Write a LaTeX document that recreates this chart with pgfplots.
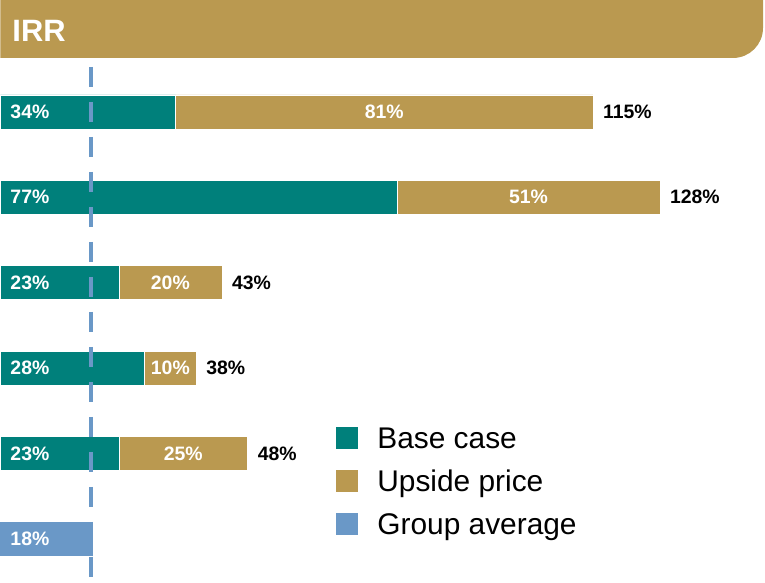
\documentclass[border=0pt]{standalone}
\usepackage{pgfplots}
\pgfplotsset{compat=1.18}
\usepackage{fontspec}
\setmainfont{Liberation Sans}
\definecolor{teal1}{RGB}{0,128,123}
\definecolor{gold1}{RGB}{186,153,80}
\definecolor{blue1}{RGB}{106,152,199}
\tikzset{
  lbl/.style={font=\bfseries\fontsize{19.5}{21}\selectfont, inner sep=0pt},
  leg/.style={anchor=base west, inner sep=0pt, font=\fontsize{30}{32}\selectfont},
}
\begin{document}
\begin{tikzpicture}
\fill[white] (0,0) rectangle (765bp,583bp);
\begin{axis}[
  at={(0,0)}, anchor=south west,
  scale only axis, width=765bp, height=583bp,
  xmin=0, xmax=148.4, ymin=-0.311, ymax=6.515,
  y dir=reverse,
  hide axis, clip=false,
  xbar stacked, bar width=34bp,
]
\addplot[fill=teal1, draw=white, line width=0.6bp] coordinates {(34,1) (77,2) (23,3) (28,4) (23,5) (0,6)};
\addplot[fill=gold1, draw=white, line width=0.6bp] coordinates {(81,1) (51,2) (20,3) (10,4) (25,5) (0,6)};
\addplot[fill=blue1, draw=none] coordinates {(0,1) (0,2) (0,3) (0,4) (0,5) (18,6)};
\coordinate (dtop) at (axis cs:17.6,0.473);
\coordinate (dbot) at (axis cs:17.6,6.445);
\coordinate (b1) at (axis cs:0,1);
\coordinate (b2) at (axis cs:0,2);
\coordinate (b3) at (axis cs:0,3);
\coordinate (b4) at (axis cs:0,4);
\coordinate (b5) at (axis cs:0,5);
\coordinate (b6) at (axis cs:0,6);
\coordinate (u1) at (axis cs:74.5,1);
\coordinate (u2) at (axis cs:102.5,2);
\coordinate (u3) at (axis cs:33,3);
\coordinate (u4) at (axis cs:33,4);
\coordinate (u5) at (axis cs:35.5,5);
\coordinate (t1) at (axis cs:115,1);
\coordinate (t2) at (axis cs:128,2);
\coordinate (t3) at (axis cs:43,3);
\coordinate (t4) at (axis cs:38,4);
\coordinate (t5) at (axis cs:48,5);
\end{axis}
\draw[blue1, line width=4.5bp, dash pattern=on 20bp off 15bp] (dtop) -- (dbot);
\node[lbl, white, anchor=west, xshift=10bp] at (b1) {34\%};
\node[lbl, white, anchor=west, xshift=10bp] at (b2) {77\%};
\node[lbl, white, anchor=west, xshift=10bp] at (b3) {23\%};
\node[lbl, white, anchor=west, xshift=10bp] at (b4) {28\%};
\node[lbl, white, anchor=west, xshift=10bp] at (b5) {23\%};
\node[lbl, white, anchor=west, xshift=10bp] at (b6) {18\%};
\node[lbl, white] at (u1) {81\%};
\node[lbl, white] at (u2) {51\%};
\node[lbl, white] at (u3) {20\%};
\node[lbl, white] at (u4) {10\%};
\node[lbl, white] at (u5) {25\%};
\node[lbl, black, anchor=west, xshift=10bp] at (t1) {115\%};
\node[lbl, black, anchor=west, xshift=10bp] at (t2) {128\%};
\node[lbl, black, anchor=west, xshift=10bp] at (t3) {43\%};
\node[lbl, black, anchor=west, xshift=10bp] at (t4) {38\%};
\node[lbl, black, anchor=west, xshift=10bp] at (t5) {48\%};
\fill[gold1] (0,525bp) -- (733bp,525bp) arc[start angle=-90, end angle=0, radius=30bp] -- (763bp,583bp) -- (0,583bp) -- cycle;
\node[white, anchor=base west, inner sep=0pt, font=\bfseries\fontsize{31}{33}\selectfont] at (12bp,541bp) {IRR};
\fill[teal1] (336bp,134bp) rectangle (358bp,156bp);
\fill[gold1] (336bp,91bp) rectangle (358bp,113bp);
\fill[blue1] (336bp,48bp) rectangle (358bp,70bp);
\node[leg] at (377bp,134bp) {Base case};
\node[leg] at (377bp,91bp) {Upside price};
\node[leg] at (377bp,48bp) {Group average};
\end{tikzpicture}
\end{document}
